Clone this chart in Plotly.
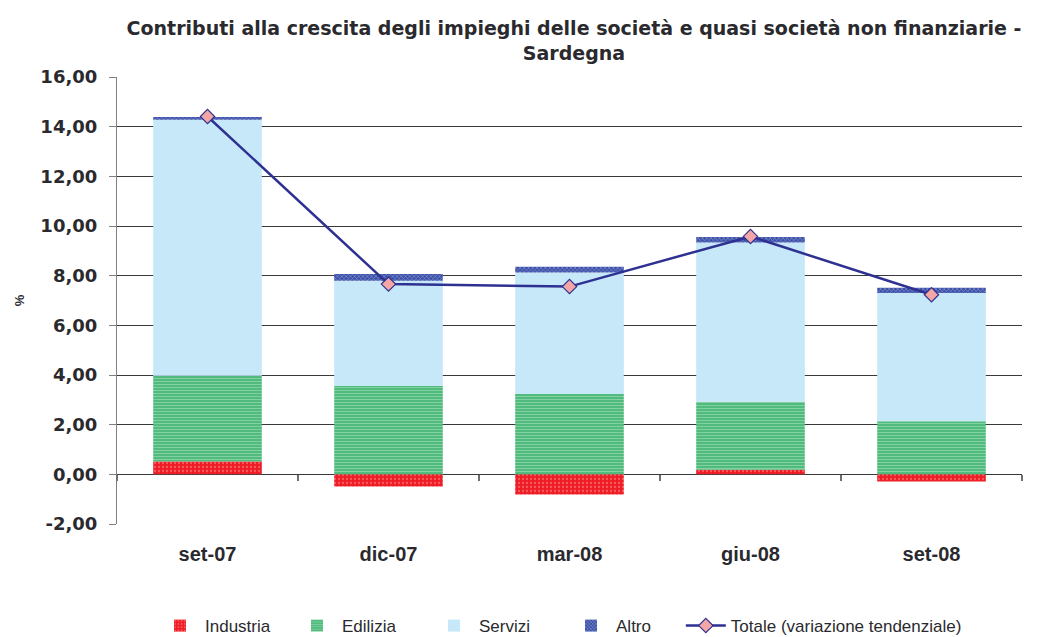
import plotly.graph_objects as go

categories = ["set-07", "dic-07", "mar-08", "giu-08", "set-08"]
industria = [0.52, -0.49, -0.81, 0.18, -0.29]
edilizia = [3.45, 3.56, 3.23, 2.74, 2.14]
servizi = [10.31, 4.24, 4.90, 6.42, 5.16]
altro = [0.11, 0.27, 0.23, 0.22, 0.21]
totale = [14.41, 7.66, 7.56, 9.58, 7.23]
y_ticks = [-2, 0, 2, 4, 6, 8, 10, 12, 14, 16]
y_tick_labels = ["-2,00", "0,00", "2,00", "4,00", "6,00", "8,00", "10,00", "12,00", "14,00", "16,00"]

FONT = "Liberation Sans, Arial, sans-serif"
WIDE = "DejaVu Sans, Liberation Sans, sans-serif"
TXT = "#2a2a2e"

fig = go.Figure()
fig.add_trace(go.Bar(
    name="Industria", x=categories, y=industria,
    marker=dict(color="#ee1c25", line=dict(width=0),
                pattern=dict(shape=".", fgcolor="#ff9a9a", bgcolor="#ee1c25", size=4, solidity=0.25)),
))
fig.add_trace(go.Bar(
    name="Edilizia", x=categories, y=edilizia,
    marker=dict(color="#3cb371", line=dict(width=0),
                pattern=dict(shape="-", fgcolor="#c4eed6", bgcolor="#3fb470", size=3, solidity=0.5)),
))
fig.add_trace(go.Bar(
    name="Servizi", x=categories, y=servizi,
    marker=dict(color="#c6e8f8", line=dict(width=0)),
))
fig.add_trace(go.Bar(
    name="Altro", x=categories, y=altro,
    marker=dict(color="#3a4fa8", line=dict(width=0),
                pattern=dict(shape="x", fgcolor="#c8d0f0", bgcolor="#3a4fa8", size=3, solidity=0.4)),
))
fig.add_trace(go.Scatter(
    name="Totale (variazione tendenziale)", x=categories, y=totale,
    mode="lines+markers", legend="legend2",
    line=dict(color="#2e3192", width=2.5),
    marker=dict(symbol="diamond", size=11, color="#f4a6a6", line=dict(color="#2e3192", width=1.2)),
))
fig.add_trace(go.Scatter(x=categories, y=[None] * len(categories), xaxis="x2",
                         showlegend=False, hoverinfo="skip"))

fig.update_layout(
    width=1047, height=637,
    barmode="relative", bargap=0.4,
    paper_bgcolor="white", plot_bgcolor="white",
    margin=dict(l=117, r=25, t=77, b=113, autoexpand=False),
    font=dict(family=FONT, color=TXT),
    title=dict(
        text="<b>Contributi alla crescita degli impieghi delle società e quasi società non finanziarie -<br>Sardegna</b>",
        x=0.505, xref="paper", xanchor="center", yref="container", y=1 - 35 / 637, yanchor="bottom",
        pad=dict(b=0, t=0),
        font=dict(size=19, family=WIDE, color=TXT),
    ),
    showlegend=True,
    legend=dict(orientation="h", x=0.042, xanchor="left", y=-0.188, yanchor="top",
                font=dict(size=17, family=FONT, color=TXT), traceorder="normal",
                itemwidth=40, entrywidth=82),
    legend2=dict(orientation="h", x=0.623, xanchor="left", y=-0.188, yanchor="top",
                 font=dict(size=17, family=FONT, color=TXT), itemwidth=40),
    xaxis=dict(
        categoryorder="array", categoryarray=categories,
        tickfont=dict(size=20, family=FONT, color=TXT, weight="bold"),
        showline=False, showgrid=False, ticks="", ticklabelstandoff=16,
        range=[-0.5, 4.5], automargin=False,
    ),
    xaxis2=dict(
        overlaying="x", anchor="free", position=2 / 18, side="bottom",
        categoryorder="array", categoryarray=categories, range=[-0.5, 4.5],
        showticklabels=False, ticks="outside", ticklen=6, tickcolor="#707070", tickwidth=1.5,
        tickson="boundaries", showgrid=False, showline=False, automargin=False,
    ),
    yaxis=dict(
        range=[-2, 16], tickvals=y_ticks, ticktext=y_tick_labels,
        tickfont=dict(size=18, family=WIDE, color=TXT, weight="bold"),
        showgrid=True, gridcolor="#3a3a3a", gridwidth=1.2,
        zeroline=True, zerolinecolor="#3a3a3a", zerolinewidth=1.2,
        showline=True, linecolor="#808080", linewidth=1.2,
        ticks="outside", ticklen=7, tickcolor="#808080", automargin=False,
        ticklabelstandoff=8,
        title=dict(text="<b>%</b>", font=dict(size=13, family=FONT, color=TXT), standoff=12),
    ),
)

fig.write_html("out.html", config={"displayModeBar": False},
               post_script="document.body.style.margin='0px';")
